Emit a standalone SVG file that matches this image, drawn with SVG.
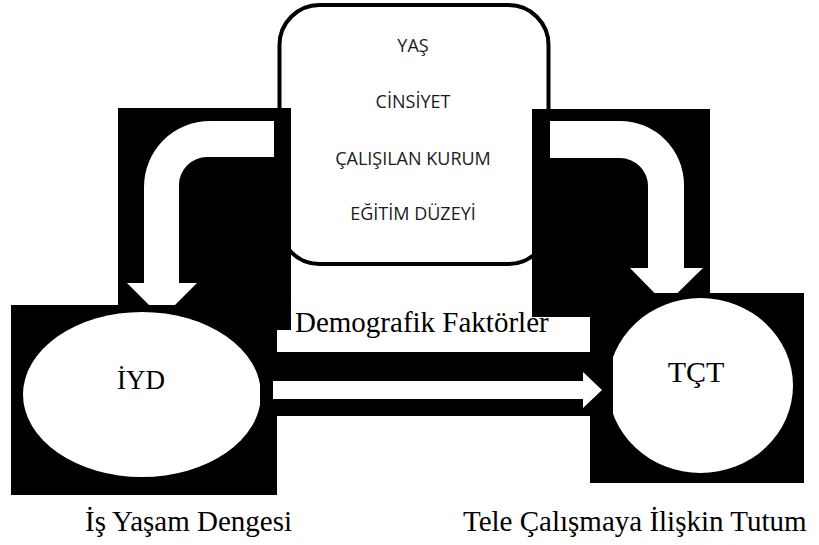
<svg xmlns="http://www.w3.org/2000/svg" width="819" height="545" viewBox="0 0 819 545">
<style>
.bg{fill:#000}
.w{fill:#fff}
.serif{font-family:"Liberation Serif","Times New Roman",serif;fill:#000}
.sans{font-family:"Open Sans","Noto Sans",sans-serif;fill:#1a1a1a;font-size:18px;text-anchor:middle}
</style>
<rect width="819" height="545" fill="#fff"/>
<g id="demografik">
<rect x="279.5" y="5" width="269" height="259" rx="40" ry="40" fill="#fff" stroke="#000" stroke-width="4"/>
<text class="sans" x="413" y="52">YAŞ</text>
<text class="sans" x="413" y="108">CİNSİYET</text>
<text class="sans" x="413" y="165">ÇALIŞILAN KURUM</text>
<text class="sans" x="413" y="220">EĞİTİM DÜZEYİ</text>
</g>
<g id="iyd">
<rect class="bg" x="11" y="305" width="266" height="190"/>
<ellipse class="w" cx="142" cy="394.5" rx="119" ry="82.5"/>
<text class="serif" x="141" y="389" font-size="27" text-anchor="middle">İYD</text>
</g>
<g id="tct">
<rect class="bg" x="590" y="293" width="214" height="190"/>
<ellipse class="w" cx="700.5" cy="385.5" rx="92.5" ry="87.5"/>
<text class="serif" x="696" y="382" font-size="30" text-anchor="middle">TÇT</text>
</g>
<g id="connectors">
<polygon class="bg" points="118,108 291,108 291,330 277,330 277,305 118,305"/>
<path class="w" d="M274,121 L210,121 A66,66 0 0 0 144,187 L144,283 L127,283 L149,305 L175,305 L197,283 L179,283 L179,185 A28,28 0 0 1 207,157 L274,157 Z"/>
<polygon class="bg" points="532,109 710,109 710,293 590,293 590,317 532,317"/>
<path class="w" d="M550,121 L620,121 A64,64 0 0 1 684,185 L684,268 L703,268 L677.5,293 L654.5,293 L630,268 L648,268 L648,186 A28,28 0 0 0 620,158 L550,158 Z"/>
<rect class="bg" x="260" y="352" width="353" height="64"/>
<path class="w" d="M273,381 L583,381 L583,372 L602,390 L583,408 L583,399 L273,399 Z"/>
</g>
<g id="labels">
<text class="serif" x="295" y="332" font-size="29">Demografik Faktörler</text>
<text class="serif" x="85" y="531" font-size="29">İş Yaşam Dengesi</text>
<text class="serif" x="463" y="531" font-size="29">Tele Çalışmaya İlişkin Tutum</text>
</g>
</svg>
